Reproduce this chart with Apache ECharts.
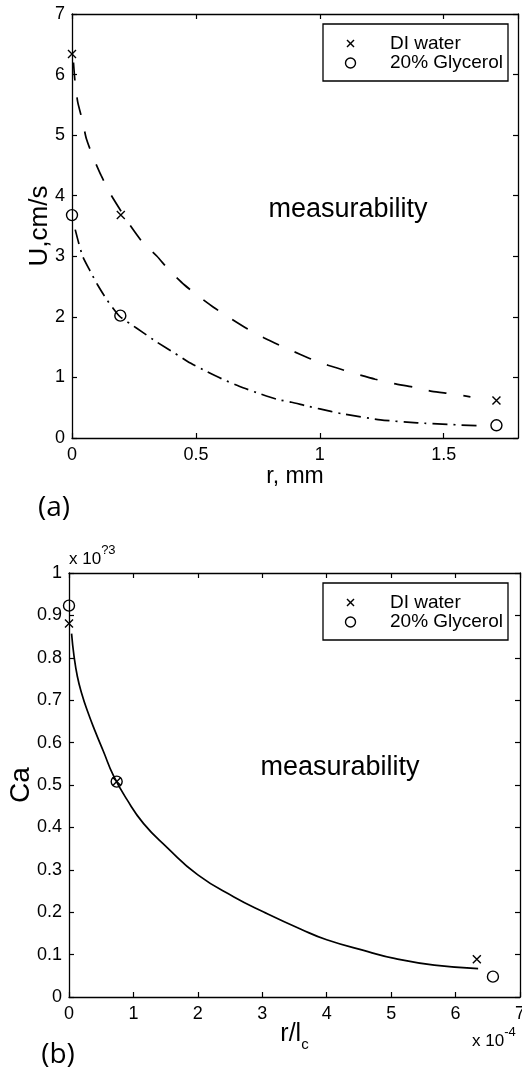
<!DOCTYPE html>
<html>
<head>
<meta charset="utf-8">
<script src="https://cdn.jsdelivr.net/npm/echarts@6/dist/echarts.min.js"></script>
<style>
  html, body { margin: 0; padding: 0; background: #fff; }
  #chart { width: 522px; height: 1076px; }
</style>
</head>
<body>
<div id="chart"></div>
<script>
// ---- Panel (a): U (cm/s) against r (mm) ----
const waterR = [0, 0.197, 1.713];
const waterU = [6.34, 3.68, 0.62];
const glyR = [0, 0.195, 1.713];
const glyU = [3.68, 2.02, 0.21];

const waterFitR = [0.006, 0.012, 0.023, 0.042, 0.058, 0.087, 0.118, 0.155, 0.208, 0.238, 0.283, 0.343, 0.39, 0.453, 0.511, 0.574, 0.642, 0.709, 0.776, 0.848, 0.922, 0.996, 1.07, 1.144, 1.224, 1.298, 1.377, 1.453, 1.53, 1.608];
const waterFitU = [6.2, 5.89, 5.55, 5.24, 4.94, 4.62, 4.33, 4.03, 3.68, 3.49, 3.24, 3.0, 2.78, 2.53, 2.34, 2.15, 1.97, 1.8, 1.65, 1.51, 1.38, 1.25, 1.155, 1.06, 0.97, 0.9, 0.84, 0.77, 0.73, 0.68];

const glyFitR = [0.013, 0.027, 0.044, 0.074, 0.103, 0.141, 0.192, 0.233, 0.287, 0.34, 0.415, 0.468, 0.542, 0.603, 0.677, 0.745, 0.826, 0.886, 0.946, 1.0, 1.09, 1.245, 1.393, 1.648];
const glyFitU = [3.44, 3.22, 2.99, 2.75, 2.53, 2.28, 2.01, 1.89, 1.74, 1.59, 1.40, 1.26, 1.10, 0.98, 0.85, 0.75, 0.64, 0.59, 0.53, 0.48, 0.40, 0.30, 0.25, 0.20];

// ---- Panel (b): Ca (x 10^-3) against r/l_c (x 10^-4) ----
const waterRl = [0, 0.742, 6.33];
const waterCa = [0.881, 0.508, 0.089];
const glyRl = [0, 0.74, 6.58];
const glyCa = [0.923, 0.508, 0.048];

const fitRl = [0.04, 0.078, 0.13, 0.197, 0.285, 0.405, 0.535, 0.69, 0.898, 1.158, 1.52, 2.0, 2.56, 3.03, 3.6, 4.0, 4.64, 5.05, 5.67, 6.35];
const fitCa = [0.857, 0.804, 0.756, 0.716, 0.675, 0.627, 0.579, 0.522, 0.466, 0.409, 0.353, 0.288, 0.236, 0.2, 0.16, 0.135, 0.107, 0.091, 0.075, 0.067];

const seriesNames = ['DI water', '20% Glycerol'];
const regionLabel = 'measurability';

const FONT = '"Liberation Sans", Arial, Helvetica, sans-serif';
const INK = '#000';

function zip(xs, ys) { return xs.map((x, i) => [x, ys[i]]); }

const crossPath = 'path://M0,0L10,10M10,0L0,10';

function tickLabel(extra) {
  return Object.assign({
    show: true, color: INK, fontFamily: FONT, fontSize: 18,
    formatter: v => String(+v.toFixed(2))
  }, extra || {});
}

function frameAxis(dim, gridIndex, position, min, max, interval, withLabels, extra) {
  const ax = {
    type: 'value', gridIndex, position, min, max, interval,
    nameMoveOverlap: false,
    axisLine: { show: true, onZero: false, lineStyle: { color: INK, width: 1.3 } },
    axisTick: { show: true, inside: true, length: 5, lineStyle: { color: INK, width: 1.2 } },
    splitLine: { show: false },
    axisLabel: withLabels ? tickLabel({ margin: dim === 'x' ? 8 : 7 }) : { show: false }
  };
  return Object.assign(ax, extra || {});
}

function scatter(name, xi, yi, data, symbol, size) {
  return {
    name, type: 'scatter', xAxisIndex: xi, yAxisIndex: yi, data,
    symbol, symbolSize: size, clip: false, z: 5,
    itemStyle: { color: 'rgba(0,0,0,0)', borderColor: INK, borderWidth: 1.4, opacity: 1 }
  };
}

function curve(xi, yi, data, dash, smooth) {
  return {
    type: 'line', xAxisIndex: xi, yAxisIndex: yi, data,
    showSymbol: false, symbol: 'none', smooth,
    lineStyle: { color: INK, width: 1.7, type: dash }, z: 3, silent: true
  };
}

function legendBox(x, y) {
  const rowA = y + 19.5, rowB = y + 39;
  const text = (t, ty) => ({
    type: 'text', x: x + 67, y: ty, z: 11,
    style: { text: t, fill: INK, fontFamily: FONT, fontSize: 19,
             align: 'left', verticalAlign: 'middle', textAlign: 'left', textVerticalAlign: 'middle' }
  });
  return [
    { type: 'rect', shape: { x, y, width: 185, height: 57 },
      style: { fill: '#fff', stroke: INK, lineWidth: 1.3 }, z: 10 },
    { type: 'line', shape: { x1: x + 24, y1: rowA - 3.5, x2: x + 31, y2: rowA + 3.5 },
      style: { stroke: INK, lineWidth: 1.4 }, z: 11 },
    { type: 'line', shape: { x1: x + 31, y1: rowA - 3.5, x2: x + 24, y2: rowA + 3.5 },
      style: { stroke: INK, lineWidth: 1.4 }, z: 11 },
    { type: 'circle', shape: { cx: x + 27.5, cy: rowB, r: 5 },
      style: { fill: 'none', stroke: INK, lineWidth: 1.4 }, z: 11 },
    text(seriesNames[0], rowA),
    text(seriesNames[1], rowB)
  ];
}

function plainText(t, x, y, size, family, align) {
  return {
    type: 'text', x, y, z: 11,
    style: { text: t, fill: INK, fontFamily: family || FONT, fontSize: size,
             align: align || 'center', verticalAlign: 'middle',
             textAlign: align || 'center', textVerticalAlign: 'middle' }
  };
}

function powerLabel(base, exp, x, y) {
  return {
    type: 'text', x, y, z: 11,
    style: {
      text: '{b|' + base + '}{p|' + exp + '}',
      align: 'left', verticalAlign: 'middle', textAlign: 'left', textVerticalAlign: 'middle',
      rich: {
        b: { fontFamily: FONT, fontSize: 17, fill: INK, color: INK, lineHeight: 24, verticalAlign: 'bottom' },
        p: { fontFamily: FONT, fontSize: 13, fill: INK, color: INK, lineHeight: 24, verticalAlign: 'top' }
      }
    }
  };
}

const chart = echarts.init(document.getElementById('chart'), null, { renderer: 'canvas' });

chart.setOption({
  backgroundColor: '#fff',
  animation: false,
  grid: [
    { left: 72, top: 14, width: 446, height: 424, containLabel: false, outerBoundsMode: 'none' },
    { left: 69, top: 573, width: 451, height: 424, containLabel: false, outerBoundsMode: 'none' }
  ],
  xAxis: [
    frameAxis('x', 0, 'bottom', 0, 1.8, 0.5, true, {
      name: 'r, mm', nameLocation: 'middle', nameGap: 27,
      nameTextStyle: { color: INK, fontFamily: FONT, fontSize: 23 },
      axisLabel: tickLabel({ margin: 8, showMaxLabel: false })
    }),
    frameAxis('x', 0, 'top', 0, 1.8, 0.5, false),
    frameAxis('x', 1, 'bottom', 0, 7, 1, true, {
      name: '{a|r/l}{s|c}', nameLocation: 'middle', nameGap: 19,
      nameTextStyle: {
        color: INK, fontFamily: FONT, fontSize: 24,
        rich: {
          a: { fontFamily: FONT, fontSize: 25, color: INK, lineHeight: 36 },
          s: { fontFamily: FONT, fontSize: 15, color: INK, lineHeight: 15, verticalAlign: 'bottom' }
        }
      }
    }),
    frameAxis('x', 1, 'top', 0, 7, 1, false)
  ],
  yAxis: [
    frameAxis('y', 0, 'left', 0, 7, 1, true, {
      name: 'U,cm/s', nameLocation: 'middle', nameGap: 19, nameRotate: 90,
      nameTextStyle: { color: INK, fontFamily: FONT, fontSize: 26 }
    }),
    frameAxis('y', 0, 'right', 0, 7, 1, false),
    frameAxis('y', 1, 'left', 0, 1, 0.1, true, {
      name: 'Ca', nameLocation: 'middle', nameGap: 34, nameRotate: 90,
      nameTextStyle: { color: INK, fontFamily: FONT, fontSize: 28 }
    }),
    frameAxis('y', 1, 'right', 0, 1, 0.1, false)
  ],
  series: [
    curve(0, 0, zip(waterFitR, waterFitU), [18, 17], 0.2),
    curve(0, 0, zip(glyFitR, glyFitU), [15, 6, 2, 6], 0.2),
    scatter(seriesNames[0], 0, 0, zip(waterR, waterU), crossPath, 8),
    scatter(seriesNames[1], 0, 0, zip(glyR, glyU), 'circle', 11),

    curve(2, 2, zip(fitRl, fitCa), 'solid', 0.5),
    scatter(seriesNames[0], 2, 2, zip(waterRl, waterCa), crossPath, 8),
    scatter(seriesNames[1], 2, 2, zip(glyRl, glyCa), 'circle', 11)
  ],
  graphic: [
    ...legendBox(323, 24),
    ...legendBox(323, 583),
    plainText(regionLabel, 348, 210, 27),
    plainText(regionLabel, 340, 768, 27),
    plainText('(a)', 54, 508, 28, '"Open Sans", "DejaVu Sans", sans-serif'),
    plainText('(b)', 58, 1055, 28, '"Open Sans", "DejaVu Sans", sans-serif'),
    powerLabel('x 10', '?3', 69, 556),
    powerLabel('x 10', '-4', 472, 1038)
  ]
});
</script>
</body>
</html>
